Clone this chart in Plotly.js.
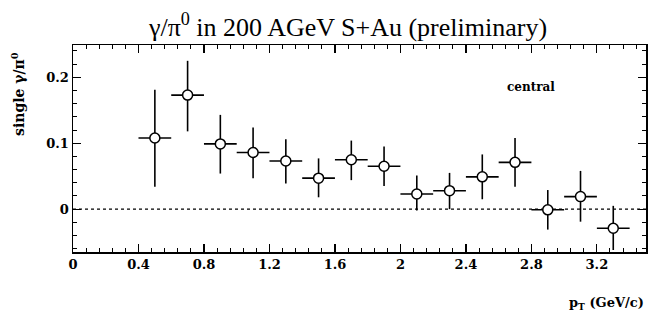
<!DOCTYPE html>
<html>
<head>
<meta charset="utf-8">
<script src="https://cdn.plot.ly/plotly-3.0.1.min.js"></script>
<style>html,body{margin:0;padding:0;background:#fff;}#chart{width:648px;height:315px;}</style>
</head>
<body>
<div id="chart"></div>
<script>
// Data
var pt = [0.5, 0.7, 0.9, 1.1, 1.3, 1.5, 1.7, 1.9, 2.1, 2.3, 2.5, 2.7, 2.9, 3.1, 3.3];
var ratio = [0.108, 0.173, 0.099, 0.086, 0.073, 0.047, 0.075, 0.065, 0.023, 0.028, 0.049, 0.071, -0.001, 0.019, -0.029];
var errUp = [0.073, 0.052, 0.044, 0.038, 0.033, 0.030, 0.029, 0.030, 0.028, 0.027, 0.034, 0.037, 0.030, 0.039, 0.034];
var errDown = [0.074, 0.055, 0.045, 0.039, 0.034, 0.029, 0.031, 0.030, 0.025, 0.028, 0.034, 0.037, 0.030, 0.038, 0.033];
var binHalfWidth = [0.1, 0.1, 0.1, 0.1, 0.1, 0.1, 0.1, 0.1, 0.1, 0.1, 0.1, 0.1, 0.1, 0.1, 0.1];
var xTickVals = [0, 0.4, 0.8, 1.2, 1.6, 2, 2.4, 2.8, 3.2];
var xTickText = ['0', '0.4', '0.8', '1.2', '1.6', '2', '2.4', '2.8', '3.2'];
var yTickVals = [0, 0.1, 0.2];
var yTickText = ['0', '0.1', '0.2'];

var serif = 'Liberation Serif';
var serifBold = 'DejaVu Serif';

var trace = {
  x: pt,
  y: ratio,
  type: 'scatter',
  mode: 'markers',
  marker: {symbol: 'circle', size: 10, color: '#ffffff', line: {color: '#000000', width: 1.5}},
  error_y: {type: 'data', symmetric: false, array: errUp, arrayminus: errDown, color: '#000000', thickness: 1.6, width: 0},
  error_x: {type: 'data', array: binHalfWidth, color: '#000000', thickness: 1.6, width: 0},
  showlegend: false,
  hoverinfo: 'x+y'
};

var axisCommon = {
  showgrid: false,
  zeroline: false,
  showline: true,
  linecolor: '#000000',
  linewidth: 1.5,
  mirror: 'allticks',
  ticks: 'inside',
  ticklen: 8,
  tickwidth: 1.2,
  tickcolor: '#000000',
  tickfont: {family: serifBold, size: 13, color: '#000000', weight: 700}
};

var layout = {
  width: 648,
  height: 315,
  paper_bgcolor: '#ffffff',
  plot_bgcolor: '#ffffff',
  margin: {l: 73, r: 2, t: 45, b: 63},
  title: {
    text: 'γ/π<sup>0</sup> in 200 AGeV S+Au (preliminary)',
    font: {family: serif, size: 26, color: '#000000'},
    x: 348 / 648, xref: 'container', xanchor: 'center',
    y: 1 - 27 / 315, yref: 'container', yanchor: 'middle'
  },
  xaxis: Object.assign({}, axisCommon, {
    range: [0, 3.5],
    tickmode: 'array',
    tickvals: xTickVals,
    ticktext: xTickText,
    minor: {dtick: 0.08, tick0: 0, ticks: 'inside', ticklen: 4, tickwidth: 1, tickcolor: '#000000'}
  }),
  yaxis: Object.assign({}, axisCommon, {
    range: [-0.065, 0.249],
    tickmode: 'array',
    tickvals: yTickVals,
    ticktext: yTickText,
    minor: {dtick: 0.02, tick0: 0, ticks: 'inside', ticklen: 4, tickwidth: 1, tickcolor: '#000000'}
  }),
  shapes: [{
    type: 'line', xref: 'x', yref: 'y', x0: 0, x1: 3.5, y0: 0, y1: 0,
    line: {color: '#000000', width: 1.2, dash: '3px,3px'}, layer: 'below'
  }],
  annotations: [
    {
      text: 'single γ/π<sup>0</sup>', xref: 'paper', yref: 'paper',
      x: -55 / 573, y: 1 - 49 / 207, xanchor: 'center', yanchor: 'middle',
      textangle: -90, showarrow: false,
      font: {family: serifBold, size: 14, color: '#000000', weight: 700}
    },
    {
      text: 'p<sub>T</sub> (GeV/c)', xref: 'paper', yref: 'paper',
      x: 1.0, y: -0.3, xanchor: 'right', yanchor: 'bottom', showarrow: false,
      font: {family: serifBold, size: 13, color: '#000000', weight: 700}
    },
    {
      text: 'central', xref: 'x', yref: 'paper',
      x: 2.8, y: 1 - 42 / 207, xanchor: 'center', yanchor: 'middle', showarrow: false,
      font: {family: serifBold, size: 12, color: '#000000', weight: 700}
    }
  ]
};

Plotly.newPlot('chart', [trace], layout, {displayModeBar: false, staticPlot: true});
</script>
</body>
</html>
